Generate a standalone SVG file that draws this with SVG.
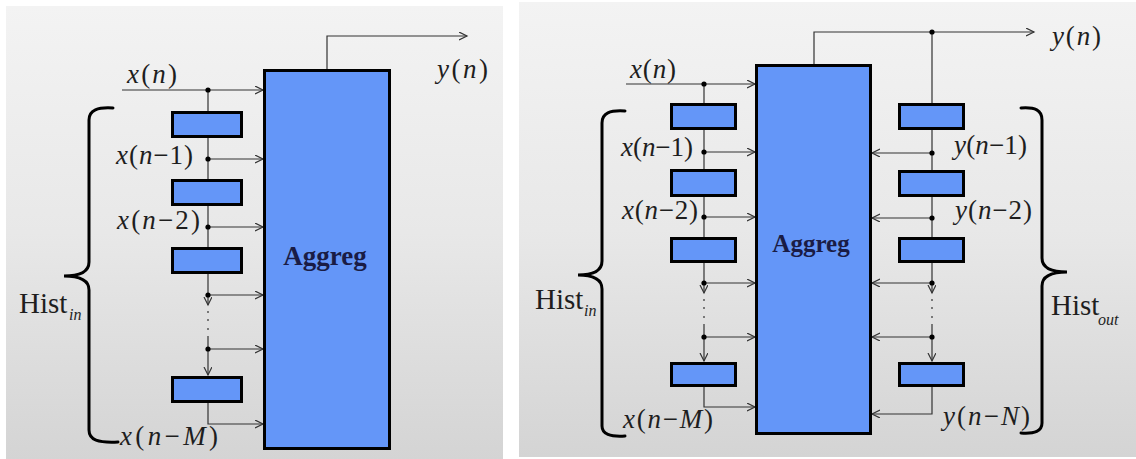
<svg xmlns="http://www.w3.org/2000/svg" width="1136" height="459" viewBox="0 0 1136 459">
<defs>
<linearGradient id="bg" x1="0" y1="0" x2="0" y2="1">
<stop offset="0" stop-color="#f3f3f3"/>
<stop offset="0.5" stop-color="#e8e8e8"/>
<stop offset="1" stop-color="#d4d4d4"/>
</linearGradient>
<marker id="ah" markerUnits="userSpaceOnUse" markerWidth="10" markerHeight="10" refX="8" refY="4" orient="auto">
<path d="M0,0 L8,4 L0,8" fill="none" stroke="#333" stroke-width="1.2"/>
</marker>
<style>
.blk{fill:#6496f8;stroke:#000;stroke-width:3}
.agg{fill:#6496f8;stroke:#000;stroke-width:3}
.aggt{font-family:"Liberation Serif",serif;font-weight:bold;fill:#1a1c45;text-anchor:middle}
.ln{fill:none;stroke:#333;stroke-width:1.2}
.ar{fill:none;stroke:#333;stroke-width:1.2;marker-end:url(#ah)}
.dot{fill:#000}
.lbl{font-family:"Liberation Serif",serif;font-size:27px;fill:#1e1e1e}
.it{font-style:italic}
.br{fill:none;stroke:#000;stroke-width:3;stroke-linecap:round}
.hist{font-family:"Liberation Serif",serif;font-size:29px;fill:#1e1e1e}
.sub{font-family:"Liberation Serif",serif;font-size:16px;font-style:italic;fill:#1e1e1e}
.dash{stroke:#333;stroke-width:1.2}
</style>
</defs>
<rect width="1136" height="459" fill="#fff"/>
<rect x="6" y="6" width="497" height="453" fill="url(#bg)"/>
<rect x="519" y="2" width="617" height="455" fill="url(#bg)"/>

<!-- LEFT PANEL -->
<g id="connectors-left">
<path class="ar" d="M122,90 H263"/>
<path class="ln" d="M208,90 V111 M208,137 V179 M208,206 V247"/>
<path class="ln" d="M208,273 V295"/>
<path class="ar" d="M208,295 V305"/>
<line class="dash" x1="208" y1="311" x2="208" y2="313"/>
<line class="dash" x1="208" y1="319" x2="208" y2="321"/>
<line class="dash" x1="208" y1="328" x2="208" y2="330"/>
<path class="ar" d="M208,336 V375"/>
<path class="ar" d="M208,159 H263"/>
<path class="ar" d="M208,227 H263"/>
<path class="ar" d="M208,295 H263"/>
<path class="ar" d="M208,349 H263"/>
<path class="ar" d="M208,402 V424 H263"/>
<path class="ar" d="M327,69 V36 H467"/>
<circle class="dot" cx="208" cy="90" r="2.6"/>
<circle class="dot" cx="208" cy="159" r="2.6"/>
<circle class="dot" cx="208" cy="227" r="2.6"/>
<circle class="dot" cx="208" cy="295" r="2.6"/>
<circle class="dot" cx="208" cy="349" r="2.6"/>
</g>
<g id="aggreg-left">
<rect class="agg" x="264.5" y="70.5" width="125" height="378"/>
<text class="aggt" x="325" y="265" font-size="27">Aggreg</text>
</g>
<g id="delay-l1"><rect class="blk" x="172.5" y="112.5" width="69" height="24"/></g>
<g id="delay-l2"><rect class="blk" x="172.5" y="180.5" width="69" height="24"/></g>
<g id="delay-l3"><rect class="blk" x="172.5" y="248.5" width="69" height="24"/></g>
<g id="delay-l4"><rect class="blk" x="172.5" y="377.5" width="69" height="24"/></g>
<g id="labels-left">
<text class="lbl" x="127" y="83" textLength="50" lengthAdjust="spacing"><tspan class="it">x</tspan>(<tspan class="it">n</tspan>)</text>
<text class="lbl" x="437" y="78" textLength="51" lengthAdjust="spacing"><tspan class="it">y</tspan>(<tspan class="it">n</tspan>)</text>
<text class="lbl" x="116" y="164" textLength="77" lengthAdjust="spacing"><tspan class="it">x</tspan>(<tspan class="it">n</tspan>−1)</text>
<text class="lbl" x="117" y="229" textLength="83" lengthAdjust="spacing"><tspan class="it">x</tspan>(<tspan class="it">n</tspan>−2)</text>
<text class="lbl" x="120" y="445" textLength="98" lengthAdjust="spacing"><tspan class="it">x</tspan>(<tspan class="it">n</tspan>−<tspan class="it">M</tspan>)</text>
</g>
<g id="hist-in-left">
<path class="br" d="M113,108 C98,107 89,110 89,120 L89,262 C89,271 82,276 64,276 C82,276 89,281 89,290 L89,430 C89,440 98,443 118,442"/>
<text class="hist" x="19" y="313">Hist</text>
<text class="sub" x="69" y="320">in</text>
</g>

<!-- RIGHT PANEL -->
<g id="connectors-right">
<path class="ar" d="M626,84 H755"/>
<path class="ln" d="M704,84 V103 M704,130 V169 M704,197 V237 M704,263 V283"/>
<path class="ar" d="M704,283 V293"/>
<line class="dash" x1="704" y1="299" x2="704" y2="301"/>
<line class="dash" x1="704" y1="307" x2="704" y2="309"/>
<line class="dash" x1="704" y1="316" x2="704" y2="318"/>
<path class="ar" d="M704,324 V361"/>
<path class="ar" d="M704,152 H755"/>
<path class="ar" d="M704,217 H755"/>
<path class="ar" d="M704,283 H755"/>
<path class="ar" d="M704,337 H755"/>
<path class="ar" d="M704,387 V407 H755"/>
<path class="ar" d="M814,64 V32 H1034"/>
<path class="ln" d="M932,32 V103 M932,130 V170 M932,197 V237 M932,263 V283"/>
<path class="ar" d="M932,283 V293"/>
<line class="dash" x1="932" y1="299" x2="932" y2="301"/>
<line class="dash" x1="932" y1="307" x2="932" y2="309"/>
<line class="dash" x1="932" y1="316" x2="932" y2="318"/>
<path class="ar" d="M932,324 V361"/>
<path class="ar" d="M932,153 H872"/>
<path class="ar" d="M932,218 H872"/>
<path class="ar" d="M932,283 H872"/>
<path class="ar" d="M932,337 H872"/>
<path class="ar" d="M932,387 V414 H872"/>
<circle class="dot" cx="704" cy="84" r="2.6"/>
<circle class="dot" cx="704" cy="152" r="2.6"/>
<circle class="dot" cx="704" cy="217" r="2.6"/>
<circle class="dot" cx="704" cy="283" r="2.6"/>
<circle class="dot" cx="704" cy="337" r="2.6"/>
<circle class="dot" cx="932" cy="32" r="2.6"/>
<circle class="dot" cx="932" cy="153" r="2.6"/>
<circle class="dot" cx="932" cy="218" r="2.6"/>
<circle class="dot" cx="932" cy="283" r="2.6"/>
<circle class="dot" cx="932" cy="337" r="2.6"/>
</g>
<g id="aggreg-right">
<rect class="agg" x="756.5" y="65.5" width="114" height="368"/>
<text class="aggt" x="811" y="252" font-size="25">Aggreg</text>
</g>
<g id="delay-r-in1"><rect class="blk" x="671.5" y="104.5" width="64" height="24"/></g>
<g id="delay-r-in2"><rect class="blk" x="671.5" y="170.5" width="64" height="25"/></g>
<g id="delay-r-in3"><rect class="blk" x="671.5" y="238.5" width="64" height="23"/></g>
<g id="delay-r-in4"><rect class="blk" x="671.5" y="363.5" width="64" height="22"/></g>
<g id="delay-r-out1"><rect class="blk" x="899.5" y="104.5" width="64" height="24"/></g>
<g id="delay-r-out2"><rect class="blk" x="899.5" y="171.5" width="64" height="24"/></g>
<g id="delay-r-out3"><rect class="blk" x="899.5" y="238.5" width="64" height="23"/></g>
<g id="delay-r-out4"><rect class="blk" x="899.5" y="363.5" width="64" height="22"/></g>
<g id="labels-right">
<text class="lbl" x="630" y="78" textLength="46" lengthAdjust="spacing"><tspan class="it">x</tspan>(<tspan class="it">n</tspan>)</text>
<text class="lbl" x="1052" y="45" textLength="49" lengthAdjust="spacing"><tspan class="it">y</tspan>(<tspan class="it">n</tspan>)</text>
<text class="lbl" x="621" y="156" textLength="72" lengthAdjust="spacing"><tspan class="it">x</tspan>(<tspan class="it">n</tspan>−1)</text>
<text class="lbl" x="622" y="219" textLength="76" lengthAdjust="spacing"><tspan class="it">x</tspan>(<tspan class="it">n</tspan>−2)</text>
<text class="lbl" x="623" y="428" textLength="90" lengthAdjust="spacing"><tspan class="it">x</tspan>(<tspan class="it">n</tspan>−<tspan class="it">M</tspan>)</text>
<text class="lbl" x="954" y="154" textLength="73" lengthAdjust="spacing"><tspan class="it">y</tspan>(<tspan class="it">n</tspan>−1)</text>
<text class="lbl" x="955" y="219" textLength="77" lengthAdjust="spacing"><tspan class="it">y</tspan>(<tspan class="it">n</tspan>−2)</text>
<text class="lbl" x="943" y="425" textLength="87" lengthAdjust="spacing"><tspan class="it">y</tspan>(<tspan class="it">n</tspan>−<tspan class="it">N</tspan>)</text>
</g>
<g id="hist-in-right">
<path class="br" d="M625,111 C610,110 602,113 602,123 L602,261 C602,270 595,275 578,275 C595,275 602,280 602,289 L602,426 C602,434 610,437 625,436"/>
<text class="hist" x="535" y="309">Hist</text>
<text class="sub" x="584" y="316">in</text>
</g>
<g id="hist-out-right">
<path class="br" d="M1021,108 C1035,107 1042,110 1042,120 L1042,258 C1042,267 1049,272 1067,272 C1049,272 1042,277 1042,286 L1042,423 C1042,431 1035,434 1021,433"/>
<text class="hist" x="1051" y="315">Hist</text>
<text class="sub" x="1098" y="325">out</text>
</g>
</svg>
